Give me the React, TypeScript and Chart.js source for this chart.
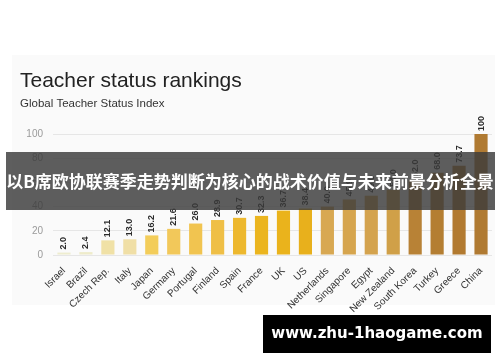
import React, { useEffect, useRef } from "react";
import { Chart, registerables } from "chart.js";

Chart.register(...registerables);

const countries = [
  "Israel", "Brazil", "Czech Rep.", "Italy", "Japan", "Germany", "Portugal",
  "Finland", "Spain", "France", "UK", "US", "Netherlands", "Singapore",
  "Egypt", "New Zealand", "South Korea", "Turkey", "Greece", "China",
];
const statusIndex = [
  2.0, 2.4, 12.1, 13.0, 16.2, 21.6, 26.0, 28.9, 30.7, 32.3, 36.7, 38.4,
  40.0, 45.9, 49.0, 54.0, 62.0, 68.0, 73.7, 100,
];
const barColors = [
  "#eeedcf", "#eeebca", "#f0e1a6", "#f0dfa6", "#f3cd5a", "#f2c85a", "#f1c450",
  "#efbf46", "#edb82e", "#ebb51f", "#eab31c", "#e8b01c", "#d8a852", "#d6a54e",
  "#d4a34e", "#d0a048", "#b88236", "#b47e32", "#b27a30", "#b07a32",
];
const yTicks = [0, 20, 40, 60, 80, 100];

const title = "Teacher status rankings";
const subtitle = "Global Teacher Status Index";
const banner = "以B席欧协联赛季走势判断为核心的战术价值与未来前景分析全景";
const watermark = "www.zhu-1haogame.com";

const SANS = "'Liberation Sans', Arial, Helvetica, sans-serif";

const overlayPlugin = {
  id: "overlay",
  beforeDraw(chart: any) {
    const ctx = chart.ctx;
    ctx.save();
    ctx.fillStyle = "#ffffff";
    ctx.fillRect(0, 0, chart.width, chart.height);
    ctx.fillStyle = "#fafafa";
    ctx.fillRect(12, 55, 483, 250);
    ctx.fillStyle = "#222222";
    ctx.font = `21px ${SANS}`;
    ctx.textBaseline = "alphabetic";
    ctx.textAlign = "left";
    ctx.fillText(title, 20, 87);
    ctx.fillStyle = "#333333";
    ctx.font = `11.5px ${SANS}`;
    ctx.fillText(subtitle, 20, 107);
    ctx.restore();
  },
  afterDatasetsDraw(chart: any) {
    const ctx = chart.ctx;
    const meta = chart.getDatasetMeta(0);
    ctx.save();
    ctx.fillStyle = "#2a2a2a";
    ctx.font = `bold 9px ${SANS}`;
    ctx.textAlign = "left";
    ctx.textBaseline = "middle";
    meta.data.forEach((bar: any, i: number) => {
      const v = statusIndex[i];
      const txt = v === 100 ? "100" : v.toFixed(1);
      ctx.save();
      ctx.translate(bar.x, bar.y - 3);
      ctx.rotate(-Math.PI / 2);
      ctx.fillText(txt, 0, 0);
      ctx.restore();
    });
    ctx.restore();
  },
  afterDraw(chart: any) {
    const ctx = chart.ctx;
    ctx.save();
    ctx.fillStyle = "rgba(58,58,58,0.82)";
    ctx.fillRect(6, 152, 489, 58);
    ctx.fillStyle = "#ffffff";
    ctx.font = `bold 17px 'Noto Sans CJK SC', sans-serif`;
    ctx.textAlign = "center";
    ctx.textBaseline = "middle";
    ctx.fillText(banner, 250, 182);

    ctx.fillStyle = "#000000";
    ctx.fillRect(263, 315, 228, 38);
    ctx.fillStyle = "#ffffff";
    ctx.font = `bold 15px 'DejaVu Sans', sans-serif`;
    ctx.fillText(watermark, 377, 334);
    ctx.restore();
  },
};

export default function App() {
  const ref = useRef<HTMLCanvasElement | null>(null);
  useEffect(() => {
    document.body.style.margin = "0";
    if (!ref.current) return;
    const chart = new Chart(ref.current, {
      type: "bar",
      data: {
        labels: countries,
        datasets: [
          {
            data: statusIndex,
            backgroundColor: barColors,
            borderWidth: 0,
            barPercentage: 0.6,
            categoryPercentage: 1,
          },
        ],
      },
      options: {
        animation: false,
        responsive: false,
        devicePixelRatio: 1,
        layout: { padding: { top: 134, left: 0, right: 8, bottom: 0 } },
        plugins: {
          legend: { display: false },
          tooltip: { enabled: false },
        },
        scales: {
          x: {
            grid: { display: false },
            border: { display: false },
            ticks: {
              color: "#333333",
              font: { family: SANS, size: 10 },
              minRotation: 45,
              maxRotation: 45,
              autoSkip: false,
              padding: 2,
            },
            afterFit(scale: any) {
              scale.height = 107;
            },
          },
          y: {
            min: 0,
            max: 100,
            afterBuildTicks(scale: any) {
              scale.ticks = yTicks.map((v) => ({ value: v }));
            },
            grid: { color: "#e6e6e6", drawTicks: false },
            border: { display: false },
            ticks: {
              color: "#9a9a9a",
              font: { family: SANS, size: 10 },
              padding: 10,
            },
            afterFit(scale: any) {
              scale.width = 53;
            },
          },
        },
      },
      plugins: [overlayPlugin],
    });
    return () => chart.destroy();
  }, []);
  return <canvas ref={ref} width={500} height={362} style={{ display: "block" }} />;
}
